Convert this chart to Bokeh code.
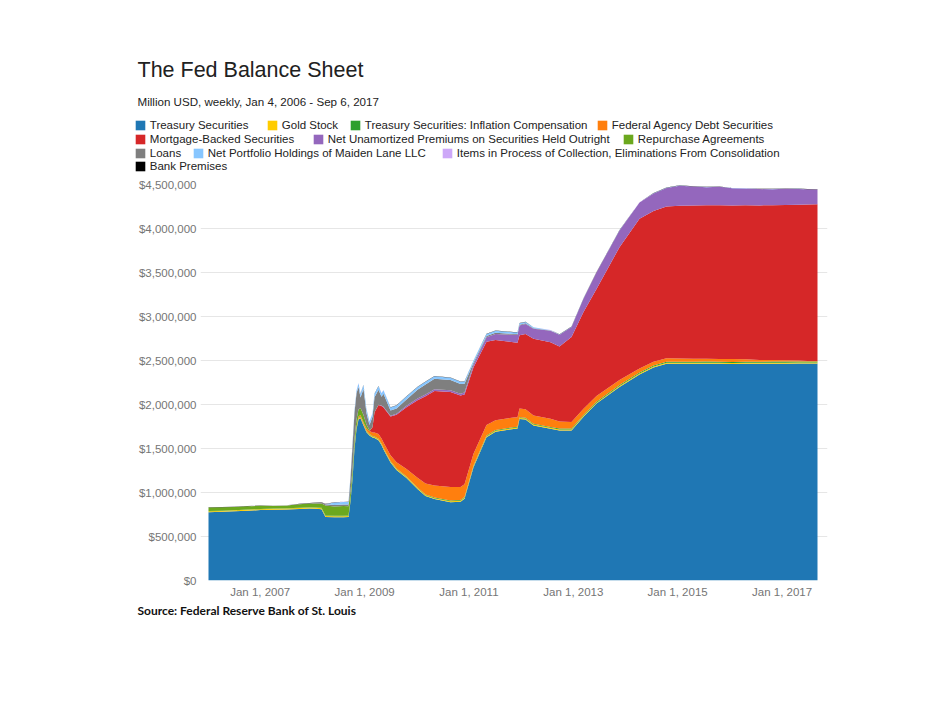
import pandas as pd
from bokeh.plotting import figure
from bokeh.layouts import column
from bokeh.models import (ColumnDataSource, Range1d, FixedTicker, NumeralTickFormatter,
                          Title, Label, Legend, LegendItem)
from bokeh.embed import file_html
from bokeh.resources import INLINE

# ---------------- data (billion USD) ----------------
dates = ["2006-01-04", "2006-04-05", "2006-07-05", "2006-10-04",
         "2007-01-03", "2007-04-04", "2007-07-04", "2007-10-03", "2007-12-12",
         "2008-01-30", "2008-03-05", "2008-04-02", "2008-06-04", "2008-08-06", "2008-09-10",
         "2008-09-24", "2008-10-08", "2008-10-22", "2008-11-05", "2008-11-19", "2008-12-03", "2008-12-24",
         "2009-01-14", "2009-02-04", "2009-02-25", "2009-03-11", "2009-04-08", "2009-04-29",
         "2009-05-13", "2009-07-01", "2009-08-12", "2009-10-21",
         "2010-01-06", "2010-03-03", "2010-05-05", "2010-08-25", "2010-11-03", "2010-12-01",
         "2011-02-02", "2011-05-04", "2011-07-06", "2011-11-09", "2011-12-07", "2011-12-21",
         "2012-02-01", "2012-03-28", "2012-07-25", "2012-09-26", "2012-12-19",
         "2013-03-13", "2013-06-12", "2013-11-20",
         "2014-04-09", "2014-07-16", "2014-10-15",
         "2015-01-14", "2015-04-22", "2015-07-22", "2015-10-21",
         "2016-01-20", "2016-04-20", "2016-07-27", "2016-10-26",
         "2017-01-25", "2017-04-26", "2017-06-28", "2017-09-06"]

treasury = [776, 780, 786, 792, 800, 803, 806, 812, 818,
            815, 810, 722, 720, 720, 722, 900, 1150, 1500, 1720, 1830, 1845, 1761,
            1686, 1648, 1625, 1620, 1595, 1540, 1490, 1340, 1255, 1165,
            1040, 960, 925, 890, 895, 930,
            1288, 1629, 1690, 1722, 1728, 1835,
            1830, 1761, 1724, 1705, 1705,
            1860, 2010, 2200,
            2340, 2420, 2462,
            2463, 2462, 2464, 2462,
            2461, 2463, 2463, 2464,
            2464, 2465, 2465, 2465]

gold = [11.04, 11.04, 11.04, 11.04, 11.04, 11.04, 11.04, 11.04, 11.04,
        11.04, 11.04, 11.04, 11.04, 11.04, 11.04, 11.04, 11.04, 11.04, 11.04, 11.04, 11.04, 11.04,
        11.04, 11.04, 11.04, 11.04, 11.04, 11.04, 11.04, 11.04, 11.04, 11.04,
        11.04, 11.04, 11.04, 11.04, 11.04, 11.04,
        11.04, 11.04, 11.04, 11.04, 11.04, 11.04,
        11.04, 11.04, 11.04, 11.04, 11.04,
        11.04, 11.04, 11.04,
        11.04, 11.04, 11.04,
        11.04, 11.04, 11.04, 11.04,
        11.04, 11.04, 11.04, 11.04,
        11.04, 11.04, 11.04, 11.04]

tips = [2.0, 2.2, 2.4, 2.6, 2.8, 3.0, 3.3, 3.6, 3.8,
        4.0, 4.3, 4.5, 4.8, 5.0, 5.2, 5.3, 5.4, 5.5, 5.5, 5.5, 5.5, 5.6,
        5.7, 5.7, 5.8, 5.8, 5.9, 6.0, 6.0, 6.2, 6.4, 6.6,
        6.8, 7.0, 7.1, 7.3, 7.4, 7.5,
        7.7, 8.0, 8.3, 8.8, 9.0, 9.1,
        9.3, 9.6, 10.0, 10.3, 10.6,
        10.9, 11.2, 11.5,
        11.8, 12.0, 12.1,
        12.0, 12.0, 12.2, 12.4,
        12.3, 12.5, 12.7, 12.8,
        12.9, 13.1, 13.3, 13.5]

agency = [0, 0, 0, 0, 0, 0, 0, 0, 0,
          0, 0, 0, 0, 0, 0, 0, 3, 8, 12, 16, 19, 22,
          28, 33, 40, 45, 52, 57, 60, 65, 70, 85,
          110, 125, 135, 155, 150, 145,
          133, 118, 113, 110, 108, 98,
          95, 94, 92, 80, 75,
          70, 64, 57,
          47, 42, 40,
          38, 36, 34, 33,
          33, 28, 20, 18,
          16, 10, 6, 4.4]

mbs = [0, 0, 0, 0, 0, 0, 0, 0, 0,
       0, 0, 0, 0, 0, 0, 0, 0, 0, 0, 0, 0, 0,
       0, 0, 60, 230, 330, 370, 400, 440, 540, 700,
       880, 990, 1075, 1080, 1040, 1020,
       984, 947, 910, 855, 845, 835,
       855, 871, 871, 852, 964,
       1100, 1215, 1508,
       1700, 1714, 1725,
       1735, 1740, 1743, 1745,
       1745, 1750, 1756, 1758,
       1762, 1770, 1778, 1783]

premiums = [0, 0, 0, 0, 0, 0, 0, 0, 0,
            0, 0, 0, 0, 0, 0, 0, 0, 0, 0, 0, 0, 0,
            0, 0, 0, 0, 3, 5, 6, 9, 12, 18,
            20, 20, 20, 19, 19, 22,
            30, 50, 70, 85, 92, 110,
            114, 114, 130, 133, 114,
            150, 190, 190,
            185, 200, 210,
            228, 215, 205, 210,
            195, 190, 185, 183,
            185, 180, 172, 165]

repo = [40, 38, 36, 37, 35, 33, 32, 40, 42,
        45, 50, 115, 105, 110, 105, 95, 90, 85, 80, 80, 80, 80,
        40, 10, 0, 0, 0, 0, 0, 0, 0, 0,
        0, 0, 0, 0, 0, 0,
        0, 0, 0, 0, 0, 0,
        0, 0, 0, 0, 0,
        0, 0, 0,
        0, 0, 0,
        0, 0, 0, 0,
        0, 0, 0, 0,
        0, 0, 0, 0]

loans = [0.3, 0.2, 0.3, 0.2, 0.4, 0.3, 0.5, 1.5, 3,
         8, 10, 15, 16, 18, 20, 150, 270, 300, 300, 260, 120, 300,
         130, 60, 120, 170, 170, 100, 150, 60, 60, 70,
         100, 115, 120, 115, 110, 100,
         20, 14, 12, 10, 9, 9,
         8, 6, 4, 2, 1,
         0.5, 0.3, 0.2,
         0.2, 0.1, 0.2,
         0.1, 0.1, 0.1, 0.1,
         0.1, 0.1, 0.1, 0.1,
         0.1, 0.1, 0.1, 0.1]

maiden_lane = [0, 0, 0, 0, 0, 0, 0, 0, 0,
               0, 0, 0, 29, 29, 29, 29, 29, 29, 29, 40, 40, 42,
               42, 40, 40, 40, 40, 40, 40, 35, 35, 35,
               30, 30, 28, 27, 26, 26,
               25, 25, 24, 20, 18, 17,
               15, 10, 3, 2, 2,
               1.8, 1.8, 1.7,
               1.7, 1.7, 1.7,
               1.7, 1.7, 1.7, 1.7,
               1.7, 1.7, 1.7, 1.7,
               1.7, 1.7, 1.7, 1.7]

items = [0.8, 1.1, 0.6, 0.9, 1.2, 0.7, 0.9, 1.0, 1.3,
         0.8, 0.9, 1.1, 0.7, 0.9, 1.0, 1.5, 1.2, 0.9, 0.8, 1.0, 1.1, 0.9,
         0.6, 0.7, 0.5, 0.6, 0.5, 0.4, 0.5, 0.4, 0.3, 0.5,
         0.4, 0.3, 0.4, 0.3, 0.3, 0.4,
         0.3, 0.2, 0.3, 0.2, 0.3, 0.2,
         0.2, 0.3, 0.2, 0.2, 0.3,
         0.2, 0.2, 0.3,
         0.2, 0.2, 0.3,
         0.2, 0.2, 0.2, 0.3,
         0.2, 0.2, 0.2, 0.2,
         0.3, 0.2, 0.2, 0.2]

bank_premises = [1.9, 1.9, 1.9, 1.9, 2.0, 2.0, 2.0, 2.0, 2.0,
                 2.0, 2.0, 2.1, 2.1, 2.1, 2.1, 2.1, 2.1, 2.1, 2.1, 2.1, 2.1, 2.1,
                 2.1, 2.1, 2.1, 2.1, 2.1, 2.2, 2.2, 2.2, 2.2, 2.2,
                 2.2, 2.2, 2.2, 2.2, 2.2, 2.2,
                 2.2, 2.2, 2.2, 2.2, 2.2, 2.2,
                 2.2, 2.2, 2.2, 2.2, 2.2,
                 2.2, 2.2, 2.2,
                 2.2, 2.2, 2.2,
                 2.2, 2.2, 2.2, 2.2,
                 2.2, 2.2, 2.2, 2.2,
                 2.2, 2.2, 2.2, 2.2]

series_names = ["Treasury Securities", "Gold Stock", "Treasury Securities: Inflation Compensation",
                "Federal Agency Debt Securities", "Mortgage-Backed Securities",
                "Net Unamortized Premiums on Securities Held Outright", "Repurchase Agreements",
                "Loans", "Net Portfolio Holdings of Maiden Lane LLC",
                "Items in Process of Collection, Eliminations From Consolidation", "Bank Premises"]
series_values = [treasury, gold, tips, agency, mbs, premiums, repo, loans, maiden_lane, items, bank_premises]
series_colors = ["#1f77b4", "#ffcc00", "#2ca02c", "#ff7f0e", "#d62728", "#9467bd",
                 "#6ba81e", "#7f7f7f", "#87c6ff", "#cda8f8", "#000000"]

x_tick_dates = ["2007-01-01", "2009-01-01", "2011-01-01", "2013-01-01", "2015-01-01", "2017-01-01"]
x_tick_labels = ["Jan 1, 2007", "Jan 1, 2009", "Jan 1, 2011", "Jan 1, 2013", "Jan 1, 2015", "Jan 1, 2017"]
y_ticks = [0, 500000, 1000000, 1500000, 2000000, 2500000, 3000000, 3500000, 4000000, 4500000]

UNIT = 1000  # billion -> million USD

# ---------------- build ----------------
for v in series_values:
    assert len(v) == len(dates)

data = {"date": pd.to_datetime(dates)}
keys = []
for i, vals in enumerate(series_values):
    k = "s%d" % i
    keys.append(k)
    data[k] = [v * UNIT for v in vals]
source = ColumnDataSource(data)

W = 920
HEAD_H = 174          # header figure height (title, subtitle, legend)
H = 685 - HEAD_H      # main figure height
FL, FR = 200, 827     # frame left / right (page px)
FT, FB = 184, 580     # frame top / bottom (page px)

FONT = "Liberation Sans"
AXCOL = "#757575"

# ---------------- header figure (title, subtitle, legend) ----------------
hd = figure(width=W, height=HEAD_H, title=None, toolbar_location=None, output_backend="svg",
            x_axis_location=None, y_axis_location=None,
            x_range=Range1d(0, 1), y_range=Range1d(0, 1),
            min_border_left=0, min_border_right=0, min_border_top=0, min_border_bottom=0)
hd.outline_line_color = None
hd.grid.visible = False
hd.background_fill_color = "white"
hd.border_fill_color = "white"

def hx(page_x):
    return page_x
def hy(page_y):
    return HEAD_H - page_y

hd.add_layout(Label(x=hx(137), y=hy(69), x_units="screen", y_units="screen",
                    text="The Fed Balance Sheet", text_font=FONT, text_font_size="21.5px",
                    text_color="#212121", text_baseline="alphabetic", text_align="left"))
hd.add_layout(Label(x=hx(137), y=hy(100.5), x_units="screen", y_units="screen",
                    text="Million USD, weekly, Jan 4, 2006 - Sep 6, 2017", text_font=FONT,
                    text_font_size="11.6px", text_color="#222222", text_baseline="alphabetic",
                    text_align="left"))

# the same stacked series, outside this header's ranges: only used for the legend swatches
swatches = hd.varea_stack(stackers=keys, x="date", color=series_colors, source=source)

# legend entries: (series index, swatch left x, row bottom y) in page px
GLYPH = 12     # area legend glyphs are inset by 10% -> ~10 px visible square
legend_layout = [(0, 135, 132.3), (1, 267, 132.3), (2, 350, 132.3), (3, 597, 132.3),
                 (4, 135, 146.0), (5, 313, 146.0), (6, 623, 146.0),
                 (7, 135, 159.6), (8, 193, 159.6), (9, 442, 159.6),
                 (10, 135, 173.2)]
for i, lx, yb in legend_layout:
    leg = Legend(items=[LegendItem(label=series_names[i], renderers=[swatches[i]])],
                 location=(hx(lx) - 1.2, hy(yb)), orientation="horizontal",
                 spacing=0, padding=0, margin=0, glyph_width=GLYPH, glyph_height=GLYPH,
                 label_standoff=4, label_height=14,
                 label_text_font=FONT, label_text_font_size="11.5px", label_text_color="#222222",
                 border_line_color=None, background_fill_alpha=0)
    hd.add_layout(leg)

# ---------------- main figure ----------------
p = figure(width=W, height=H, x_axis_type="datetime", output_backend="svg", toolbar_location=None,
           title=None,
           x_range=Range1d(pd.Timestamp("2005-11-09"), pd.Timestamp("2017-11-15")),
           y_range=Range1d(0, 4500000),
           min_border_left=FL, min_border_right=W - FR,
           min_border_top=FT - HEAD_H, min_border_bottom=(HEAD_H + H) - FB)
p.outline_line_color = None
p.background_fill_color = "white"
p.border_fill_color = "white"

renderers = p.varea_stack(stackers=keys, x="date", color=series_colors, source=source)

tick_ms = [float(pd.Timestamp(d).value // 10**6) for d in x_tick_dates]
p.xaxis.ticker = FixedTicker(ticks=tick_ms)
p.xaxis.major_label_overrides = {t: lab for t, lab in zip(tick_ms, x_tick_labels)}
p.yaxis.ticker = FixedTicker(ticks=y_ticks)
p.yaxis.formatter = NumeralTickFormatter(format="$0,0")

for ax in (p.xaxis, p.yaxis):
    ax.axis_line_color = None
    ax.major_tick_line_color = None
    ax.minor_tick_line_color = None
    ax.major_tick_out = 0
    ax.major_tick_in = 0
    ax.major_label_text_font = FONT
    ax.major_label_text_font_size = "11.5px"
    ax.major_label_text_color = AXCOL
p.xaxis.major_label_standoff = 5
p.yaxis.major_label_standoff = 4

p.xgrid.visible = False
p.ygrid.grid_line_color = "#e6e6e6"
p.ygrid.grid_line_width = 1

p.add_layout(Title(text="Source: Federal Reserve Bank of St. Louis", align="left", offset=137 - FL,
                   text_font="Lato", text_font_size="12px", text_font_style="bold",
                   text_color="#111111", standoff=0), "below")

# keep each figure's frame where it is (no frame alignment across the column)
for fig in (hd, p):
    if "frame_align" in fig.properties():
        fig.frame_align = False

layout = column(hd, p, spacing=0)
open("out.html", "w").write(file_html(layout, INLINE))
